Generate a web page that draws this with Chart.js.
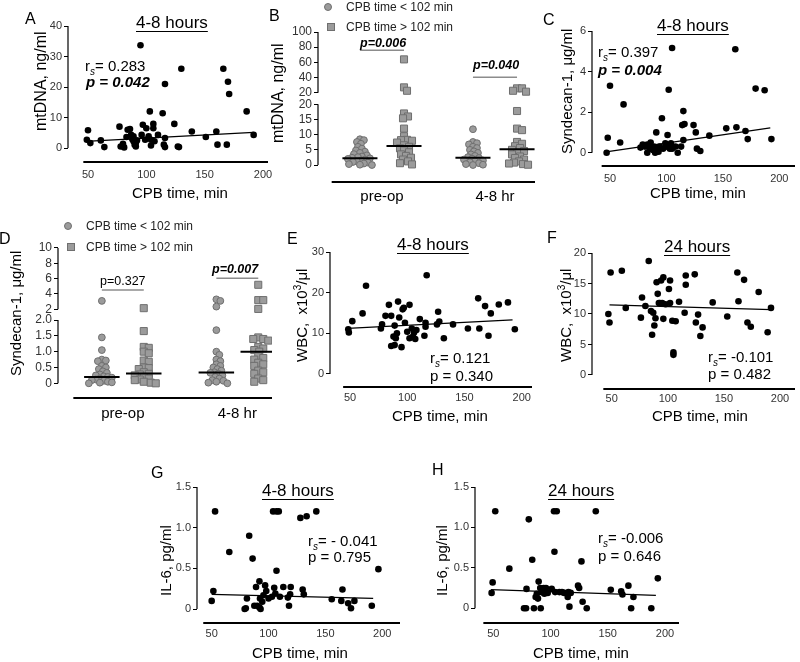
<!DOCTYPE html>
<html>
<head>
<meta charset="utf-8">
<title>CPB time panels</title>
<script src="https://cdn.jsdelivr.net/npm/chart.js@4.4.1/dist/chart.umd.min.js"></script>
<style>
  html, body { margin: 0; padding: 0; background: #fff; }
  #fig { position: relative; width: 800px; height: 662px; overflow: hidden; font-family: "Liberation Sans", Arial, sans-serif; }
  #fig canvas { position: absolute; }
  .t { position: absolute; white-space: nowrap; line-height: 1; color: #000; z-index: 2; }
  .t sub { font-size: 10px; vertical-align: -4px; line-height: 0; font-style: italic; }
  .t sup { font-size: 10px; vertical-align: 6px; line-height: 0; }
  .mk { position: absolute; width: 8px; height: 8px; background: #9b9b9b; border: 1px solid #6f6f6f; box-sizing: border-box; z-index: 2; }
</style>
</head>
<body>
<div id="fig"></div>
<script>
// ---------- data ----------
const cpbTicks = [50, 100, 150, 200];
const groups = ['pre-op', '4-8 hr'];

// A: mtDNA at 4-8 h
const aCpb = [50,49,52,61,64,77,78,80,81,83,84,86,87,88,89,90,91,89,91,92,95,96,97,99,100,102,103,104,104,106,106,107,110,114,115,116,116,116,124,127,128,130,139,151,160,161,166,169,171,170,186,192];
const aMtdna = [5.8,2.7,1.6,2.5,0.3,7,0.5,1.4,0.2,3.6,6,6.2,4.3,2.9,2.2,1.1,0.5,3.8,1.6,2.5,33.7,4.3,7.6,2.7,6.5,3.8,12,2.7,0.8,7.9,6.5,2.2,4.3,11.4,1.1,3.3,21,0.3,7.9,0.5,0.3,26,5.4,3.6,5.4,1.1,26,1.1,17.7,21.7,12,4.3];
const aFitX = [48, 192];
const aFitY = [2.2, 5.1];
const aTicks = [0, 10, 20, 30, 40];

// B: mtDNA by group
const bLowPre = [8.5,8.2,7.6,7.0,6.0,5.4,4.8,4.4,4.0,3.6,3.2,2.8,2.6,2.4,2.2,2.0,1.8,1.5,1.2,1.0,0.8,0.5,0.3,0.1,0.0];
const bHighPre = [63.9,27,22.5,17,16,15.4,12,9.5,8.3,8.2,8.0,7.4,6.5,6.0,5.5,4.8,4.2,3.5,3.0,2.4,1.8,1.2,0.6,0.2];
const bLow48 = [11.8,7.6,7.2,6.8,6.0,5.6,5.0,4.5,4.0,3.5,3.0,2.6,2.3,2.1,1.8,1.5,1.2,0.9,0.6,0.3,0.1,0.0];
const bHigh48 = [25.7,25.7,22.5,21.3,17.8,12,11.5,7.6,7.0,6.2,5.6,5.0,4.6,4.0,3.5,2.8,2.3,1.8,1.2,0.8,0.5,0.3,0.1];
const bMedLow = [2.2, 2.4];
const bMedHigh = [6.3, 5.2];
const bLowerTicks = [0, 5, 10, 15, 20];
const bUpperTicks = [20, 40, 60, 80, 100];

// C: Syndecan-1 at 4-8 h
const cCpb = [47,48,50,59,62,77,79,81,83,83,85,86,88,89,90,91,91,93,94,96,97,99,100,101,102,103,104,105,105,108,110,113,114,115,115,116,124,126,127,130,138,153,161,162,170,172,179,187,193];
const cSyn = [0,0.74,3.3,0.5,2.38,0.25,0.4,0.3,0,0.4,0.2,0.5,0.13,0.3,0,1.0,0.2,0.05,0.3,1.7,0.2,0.46,0.3,0.87,3.1,0.2,0.46,5.16,0.2,0.3,0,0.3,1.36,0.62,2.05,1.41,1.36,1.0,0.2,0.08,0.84,1.2,5.1,1.25,1.07,0.67,3.16,3.08,0.67];
const cFitX = [48, 192];
const cFitY = [0.05, 1.22];
const cTicks = [0, 2, 4, 6];

// D: Syndecan-1 by group
const dLowPre = [3.1,1.45,1.05,0.75,0.72,0.7,0.55,0.5,0.45,0.38,0.33,0.28,0.25,0.22,0.2,0.18,0.15,0.12,0.1,0.08,0.05,0.03,0.02,0];
const dHighPre = [2.15,1.65,1.15,1.12,1.0,0.95,0.72,0.68,0.5,0.48,0.45,0.35,0.3,0.28,0.25,0.2,0.15,0.12,0.1,0.05,0.02,0];
const dLow48 = [3.3,3.1,2.35,1.68,1.0,0.9,0.75,0.7,0.6,0.55,0.5,0.45,0.4,0.35,0.33,0.3,0.25,0.2,0.15,0.1,0.08,0.05,0.02,0];
const dHigh48 = [5.2,3.2,3.2,2.05,1.45,1.4,1.4,1.35,1.15,1.1,1.05,1.0,0.85,0.8,0.75,0.65,0.6,0.55,0.4,0.35,0.3,0.15,0.1,0.05];
const dMedLow = [0.2, 0.34];
const dMedHigh = [0.31, 1.0];
const dLowerTicks = [0, 0.5, 1, 1.5, 2];
const dLowerLabels = ['0', '0.5', '1.0', '1.5', '2.0'];
const dUpperTicks = [2, 4, 6, 8, 10];

// E: WBC at 4-8 h
const eCpb = [48.5,49,52,61,64,77,78,81,84,86,86,88,89,89,90,91,92,93,95,96,97,98,100,102,102,104,105,106,107,108,111,115,116,116,117,126,127,128,132,140,153,162,163,168,171,173,180,188,194];
const eWbc = [11,10.2,13,14.9,21.7,11.2,12.2,14.3,17,14.3,6.9,9.2,11.9,7.1,8.8,10,17.8,13.9,6.6,15.9,16.3,12.6,10.4,17,8.8,11.2,9.2,10.2,8.6,10.8,13.5,9.4,11.6,12.6,24.3,12.2,15.3,12.9,8.8,12.2,11.2,18.6,11.2,16.7,9.4,14.9,17.1,17.6,11];
const eFitX = [48, 192];
const eFitY = [11.2, 13.3];
const eTicks = [0, 10, 20, 30];

// F: WBC at 24 h
const fCpb = [47,48,49,59,62.5,76,77,80,83,85,86,87,88,89,90,91,92,93,94,95,96,96,98,101,102,102,104,105,105,107,110,115,116,116,124,125,127,129,131,140,153,162,163,168,171,174,181,189,192];
const fWbc = [10,8.6,16.8,17.1,11,9.4,12.7,11.3,18.7,10.5,6.6,10.2,8.1,9.3,15.2,13.3,11.8,11.8,15.5,11.8,9.2,16,11.6,14.1,15.5,11.8,8.9,3.3,3.7,8.8,12,10.2,14.8,16.3,16.5,8.6,9.9,6.4,7.8,11.9,9.6,16.8,12.1,15.6,8.6,7.9,13.6,7,11];
const fFitX = [48, 192];
const fFitY = [11.5, 10.7];
const fTicks = [0, 5, 10, 15, 20];

// G: IL-6 at 4-8 h
const gCpb = [50,51.5,53,65.5,79,80,81,83,86,87.5,89,90,92,92,92.5,93,94.5,95.5,97,98,100,103,104,105,106,107,107,109,110,113,117,118,119,119.5,128,130,131,133.5,142,155.6,164,165,170,172.5,175.5,190.8,196.6];
const gIl6 = [0.1,0.22,1.2,0.7,0,0.01,0.13,0.9,0.62,0.04,0.27,0.04,0.02,0.34,0.13,0,0.09,0.17,0.29,0.22,0.13,0.15,1.2,0.26,0.19,1.2,0.47,1.2,0.15,0.27,0.14,0.04,0.18,0.27,1.12,0.24,0.18,1.14,1.2,0.12,0.1,0.24,0.07,0.01,0.1,0.04,0.49];
const gFitX = [50, 192];
const gFitY = [0.18, 0.13];
const il6Ticks = [0, 0.5, 1, 1.5];
const il6Labels = ['0', '0.5', '1.0', '1.5'];

// H: IL-6 at 24 h
const hCpb = [48.5,49.4,51.7,64,76.8,78.6,79,81,84,85.5,87,88,89,89.6,91,91.4,92,94,94.6,96,97.5,101,103,103.4,104,105.4,107.7,110,112,115,115.6,116.5,117.6,124,125,127,128,131.6,139.5,152.6,161.7,162.8,168,170.4,172.4,188,193.7];
const hIl6 = [0.19,0.32,1.2,0.49,0,0,0.24,1.1,0.6,0,0.14,0.18,0.12,0.33,0.25,0,0.2,0.25,0.18,0.25,0.19,0.24,1.2,0.7,0.2,1.2,0.2,0.2,0.19,0.14,0.2,0.02,0.19,0.28,0.25,0.58,0.08,0,1.2,0.23,0.21,0.17,0.28,0,0.14,0,0.37];
const hFitX = [48, 192];
const hFitY = [0.23, 0.16];

// ---------- drawing ----------
const fig = document.getElementById('fig');
Chart.defaults.font.family = '"Liberation Sans", Arial, sans-serif';
Chart.defaults.color = '#333';

// Prism-style detached axes
const axisLines = {
  id: 'axisLines',
  afterDraw(chart, args, o) {
    if (!o.ySeg) return;
    const { ctx, chartArea: a, scales: { x, y } } = chart;
    ctx.save();
    ctx.strokeStyle = '#000';
    ctx.lineWidth = 2;
    ctx.beginPath();
    ctx.moveTo(x.getPixelForValue(o.xFrom), a.bottom);
    ctx.lineTo(a.right, a.bottom);
    ctx.stroke();
    ctx.lineWidth = 1.2;
    o.ySeg.forEach(([lo, hi]) => {
      ctx.beginPath();
      ctx.moveTo(a.left, y.getPixelForValue(lo));
      ctx.lineTo(a.left, y.getPixelForValue(hi));
      ctx.stroke();
    });
    ctx.restore();
  }
};
Chart.register(axisLines);

const PAD = { l: 45, t: 12, r: 14, b: 34 };

function makeCanvas(area) {
  const [L, T, R, B] = area;
  const cv = document.createElement('canvas');
  cv.width = PAD.l + (R - L) + PAD.r;
  cv.height = PAD.t + (B - T) + PAD.b;
  cv.style.left = (L - PAD.l) + 'px';
  cv.style.top = (T - PAD.t) + 'px';
  fig.appendChild(cv);
  return cv;
}

function baseOptions(p, xt, yVals, yLabels, ySeg) {
  return {
    responsive: false, animation: false, events: [],
    layout: { autoPadding: false, padding: { left: 0, top: PAD.t, right: PAD.r, bottom: 0 } },
    plugins: { legend: { display: false }, tooltip: { enabled: false }, axisLines: { xFrom: p.xFrom, ySeg } },
    scales: {
      x: {
        type: 'linear', min: p.xRange[0], max: p.xRange[1],
        grid: { display: false, drawTicks: false }, border: { display: false },
        afterFit: s => { s.height = PAD.b; },
        afterBuildTicks: s => { s.ticks = xt.vals.map(v => ({ value: v })); },
        ticks: { autoSkip: false, maxRotation: 0, padding: p.xPad, color: xt.color, font: { size: xt.size }, callback: (v, i) => xt.labels[i] }
      },
      y: {
        type: 'linear', min: p.yRange[0], max: p.yRange[1],
        grid: { display: true, drawOnChartArea: false, drawTicks: true, tickLength: 4, color: '#000', lineWidth: 1 },
        border: { display: false },
        afterFit: s => { s.width = PAD.l; },
        afterBuildTicks: s => { s.ticks = yVals.map(v => ({ value: v })); },
        ticks: { autoSkip: false, padding: 2, color: '#333', font: { size: p.yFont || 11 }, callback: (v, i) => yLabels[i] }
      }
    }
  };
}

function scatterPanel(p) {
  const cv = makeCanvas(p.area);
  const xt = { vals: cpbTicks, labels: cpbTicks.map(String), size: 11, color: '#333' };
  const yLabels = p.yLabels || p.yTicks.map(String);
  new Chart(cv, {
    type: 'scatter',
    data: {
      datasets: [
        { type: 'line', data: p.fitX.map((v, i) => ({ x: v, y: p.fitY[i] })), borderColor: '#000', borderWidth: 1.3, pointRadius: 0 },
        { data: p.x.map((v, i) => ({ x: v, y: p.y[i] })), pointRadius: 3.3, backgroundColor: '#000', borderWidth: 0 }
      ]
    },
    options: baseOptions(p, xt, p.yTicks, yLabels, [[0, p.yTicks[p.yTicks.length - 1]]])
  });
}

// beeswarm: spread points sideways so they do not pile up
function swarm(chart) {
  const xs = chart.scales.x, ys = chart.scales.y;
  const pxX = xs.getPixelForValue(1) - xs.getPixelForValue(0);
  chart.data.datasets.forEach(ds => {
    if (!ds.swarm) return;
    const byGroup = {};
    ds.data.forEach(pt => (byGroup[pt.c] = byGroup[pt.c] || []).push(pt));
    Object.values(byGroup).forEach(pts => {
      const placed = [];
      pts.forEach(pt => {
        const py = ys.getPixelForValue(pt.y);
        let off = 0;
        for (let k = 0; k < 300; k++) {
          const cand = (k % 2 ? 1 : -1) * Math.ceil(k / 2);
          if (placed.every(q => Math.hypot(q.dx - cand, q.py - py) >= ds.swarm)) { off = cand; break; }
        }
        placed.push({ dx: off, py });
        pt.x = pt.base + off / pxX;
      });
    });
  });
  chart.update('none');
}

function stripPanel(p) {
  const cv = makeCanvas(p.area);
  const up = v => p.split + p.gap + (v - p.split) / p.squeeze;
  const brk = v => (v <= p.split ? v : up(v));
  const pts = (lists, off) => lists.flatMap((vals, c) => vals.map(v => ({ x: c + 1 + off, base: c + 1 + off, c, y: brk(v) })));
  const seg = (x0, x1, v) => [{ x: x0, y: brk(v) }, { x: x1, y: brk(v) }];
  const lineDs = (data, color, w) => ({ type: 'line', data, borderColor: color, borderWidth: w, pointRadius: 0, order: 0 });
  const hw = 0.155;
  const datasets = [
    ...p.medLow.map((m, c) => lineDs(seg(c + 1 - p.off - hw, c + 1 - p.off + hw, m), '#000', 2)),
    ...p.medHigh.map((m, c) => lineDs(seg(c + 1 + p.off - hw, c + 1 + p.off + hw, m), '#000', 2)),
    ...p.bars.map((b, c) => lineDs(seg(c + 1 - p.off, c + 1 + p.off, b), '#8c8c8c', 1.5)),
    { data: pts(p.low, -p.off), swarm: 4, order: 1, pointStyle: 'circle', pointRadius: 3.4, backgroundColor: '#9b9b9b', borderColor: '#6f6f6f', borderWidth: 1 },
    { data: pts(p.high, p.off), swarm: 4.5, order: 1, pointStyle: 'rect', pointRadius: 5, backgroundColor: '#9b9b9b', borderColor: '#6f6f6f', borderWidth: 1 }
  ];
  const yVals = p.lowerTicks.concat(p.upperTicks.map(up));
  const yLabels = (p.lowerLabels || p.lowerTicks.map(String)).concat(p.upperTicks.map(String));
  const top = p.upperTicks[p.upperTicks.length - 1];
  const xt = { vals: [1, 2], labels: groups, size: 15, color: '#000' };
  const chart = new Chart(cv, {
    type: 'scatter',
    data: { datasets },
    options: baseOptions(p, xt, yVals, yLabels, [[0, p.split], [up(p.split), up(top)]])
  });
  swarm(chart);
}

scatterPanel({ area: [68, 26, 268, 162], xRange: [32.86, 204.3], yRange: [-4.59, 40], xFrom: 46, xPad: 6,
  x: aCpb, y: aMtdna, fitX: aFitX, fitY: aFitY, yTicks: aTicks });
scatterPanel({ area: [592, 31, 795, 166], xRange: [34.05, 213.9], yRange: [-0.656, 6], xFrom: 42.6, xPad: 6,
  x: cCpb, y: cSyn, fitX: cFitX, fitY: cFitY, yTicks: cTicks });
scatterPanel({ area: [330, 252, 532, 387], xRange: [32.53, 209], yRange: [-3.2, 30], xFrom: 44, xPad: 4,
  x: eCpb, y: eWbc, fitX: eFitX, fitY: eFitY, yTicks: eTicks });
scatterPanel({ area: [592, 253, 795, 389], xRange: [32.4, 213.4], yRange: [-2.3, 20], xFrom: 42.5, xPad: 3,
  x: fCpb, y: fWbc, fitX: fFitX, fitY: fFitY, yTicks: fTicks });
scatterPanel({ area: [197, 487, 400, 623], xRange: [37.1, 215.6], yRange: [-0.172, 1.5], xFrom: 42.6, xPad: 4,
  x: gCpb, y: gIl6, fitX: gFitX, fitY: gFitY, yTicks: il6Ticks, yLabels: il6Labels });
scatterPanel({ area: [475, 487, 679, 623], xRange: [34.0, 212.2], yRange: [-0.182, 1.5], xFrom: 41.3, xPad: 4,
  x: hCpb, y: hIl6, fitX: hFitX, fitY: hFitY, yTicks: il6Ticks, yLabels: il6Labels });

stripPanel({ area: [318, 32, 535, 182], xRange: [0.434, 2.354], yRange: [-5.6, 43.85], xFrom: 0.555, xPad: 6, yFont: 12,
  split: 20, gap: 3.85, squeeze: 4, off: 0.195,
  low: [bLowPre, bLow48], high: [bHighPre, bHigh48], medLow: bMedLow, medHigh: bMedHigh, bars: [76, 40.2],
  lowerTicks: bLowerTicks, upperTicks: bUpperTicks });
stripPanel({ area: [58, 248, 272, 398], xRange: [0.434, 2.303], yRange: [-0.464, 4.275], xFrom: 0.568, xPad: 7, yFont: 12,
  split: 2, gap: 0.338, squeeze: 4.13, off: 0.183,
  low: [dLowPre, dLow48], high: [dHighPre, dHigh48], medLow: dMedLow, medHigh: dMedHigh, bars: [4.52, 6.05],
  lowerTicks: dLowerTicks, lowerLabels: dLowerLabels, upperTicks: dUpperTicks });

// ---------- text ----------
function put(html, x, y, size, mode, extra) {
  const d = document.createElement('div');
  d.className = 't';
  d.innerHTML = html;
  d.style.fontSize = size + 'px';
  if (extra) d.style.cssText += extra;
  fig.appendChild(d);
  const w = d.offsetWidth, h = d.offsetHeight;
  if (mode === 'r') {
    // rotate about the top-left corner and snap to whole pixels so the glyphs stay sharp
    d.style.transformOrigin = '0 0';
    d.style.transform = 'rotate(-90deg)';
    d.style.left = Math.round(x - h / 2) + 'px';
    d.style.top = Math.round(y + w / 2) + 'px';
  } else {
    d.style.left = Math.round(mode === 'l' ? x : x - w / 2) + 'px';
    d.style.top = Math.round(y - h / 2) + 'px';
  }
}
function marker(x, y, round) {
  const m = document.createElement('div');
  m.className = 'mk';
  m.style.left = Math.round(x - 4) + 'px';
  m.style.top = Math.round(y - 4) + 'px';
  if (round) m.style.borderRadius = '50%';
  fig.appendChild(m);
}

const uline = 'text-decoration:underline;text-decoration-thickness:1px;text-underline-offset:3px;';
const bi = 'font-weight:bold;font-style:italic;';
const cpbTitle = 'CPB time, min';

// panel letters
[['A', 30, 18.5], ['B', 274, 15.5], ['C', 549, 19.5], ['D', 5, 238.5],
 ['E', 292.5, 238.5], ['F', 552, 237.5], ['G', 157, 472.5], ['H', 437.5, 470]]
  .forEach(([s, x, y]) => put(s, x, y, 16));

// panel titles
[['4-8 hours', 172, 22.5], ['4-8 hours', 692.5, 25.3], ['4-8 hours', 433, 244],
 ['24 hours', 696.5, 246], ['4-8 hours', 298, 490], ['24 hours', 580.5, 490]]
  .forEach(([s, x, y]) => put(s, x, y, 17, 'c', uline));

// correlation notes
put('r<sub>s</sub>= 0.283', 85, 65, 15, 'l');
put('p = 0.042', 86, 81, 15, 'l', bi);
put('r<sub>s</sub>= 0.397', 598, 51.7, 15, 'l');
put('p = 0.004', 598, 69.5, 15, 'l', bi);
put('r<sub>s</sub>= 0.121', 430, 357.5, 15, 'l');
put('p = 0.340', 430, 375, 15, 'l');
put('r<sub>s</sub>= -0.101', 708, 356.7, 15, 'l');
put('p = 0.482', 708, 373, 15, 'l');
put('r<sub>s</sub>= - 0.041', 307.7, 540, 15, 'l');
put('p = 0.795', 307.7, 556.7, 15, 'l');
put('r<sub>s</sub>= -0.006', 598.3, 537.7, 15, 'l');
put('p = 0.646', 598.3, 555, 15, 'l');

// axis titles
put('mtDNA, ng/ml', 41, 81, 16, 'r');
put('mtDNA, ng/ml', 277.5, 93, 16, 'r');
put('Syndecan-1, μg/ml', 566.7, 91, 15, 'r');
put('Syndecan-1, μg/ml', 15, 313, 15, 'r');
put('WBC,&nbsp; x10<sup>3</sup>/μl', 301.7, 315, 15, 'r');
put('WBC,&nbsp; x10<sup>3</sup>/μl', 565, 315, 15, 'r');
put('IL-6, pg/ml', 165, 560, 15, 'r');
put('IL-6, pg/ml', 441.7, 560, 15, 'r');
[[180, 192], [698.3, 192.5], [440, 415.5], [700, 415], [300, 652], [581, 652]]
  .forEach(([x, y]) => put(cpbTitle, x, y, 15));

// group legends
[[328.3, 6.7, 331, 27.3, 346], [68.3, 226, 71, 247.3, 86]].forEach(([cx, cy, sx, sy, tx]) => {
  marker(cx, cy, true);
  marker(sx, sy, false);
  put('CPB time &lt; 102 min', tx, cy, 12, 'l', 'color:#222;');
  put('CPB time &gt; 102 min', tx, sy, 12, 'l', 'color:#222;');
});

// group comparison p values
put('p=0.006', 383, 43.3, 12.5, 'c', bi);
put('p=0.040', 495.7, 65.8, 12.5, 'c', bi);
put('p=0.327', 122.5, 281, 12.5, 'c');
put('p=0.007', 235.3, 269.5, 12.5, 'c', bi);
</script>
</body>
</html>
